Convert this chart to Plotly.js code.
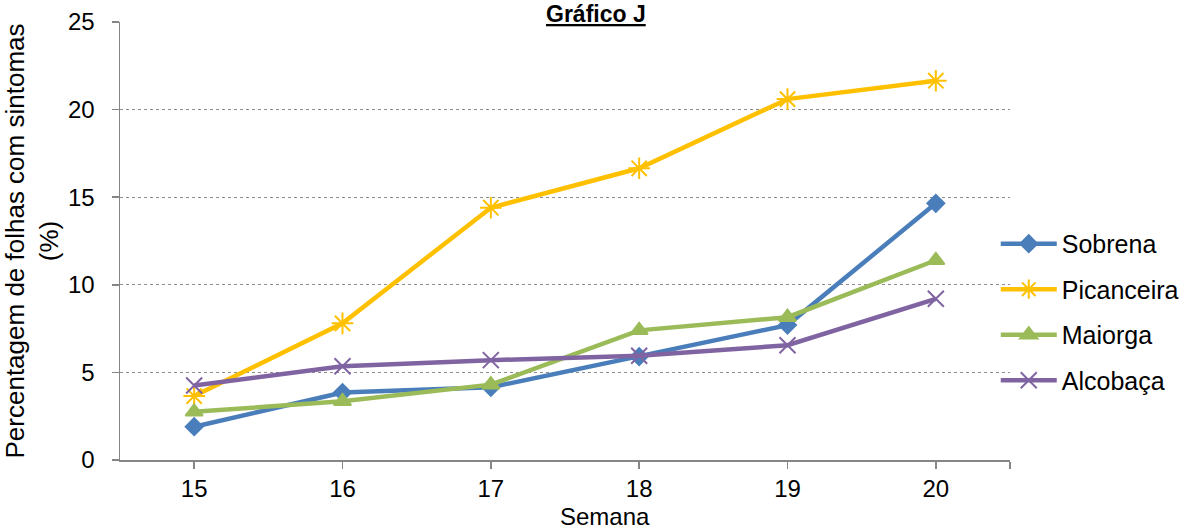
<!DOCTYPE html>
<html><head><meta charset="utf-8">
<script src="https://cdn.plot.ly/plotly-3.0.1.min.js"></script>
<style>body{margin:0;background:#fff}#c{width:1184px;height:531px}</style>
</head><body><div id="c"></div>
<script>
const weeks = [15, 16, 17, 18, 19, 20];
const sobrena = [1.9, 3.85, 4.15, 5.9, 7.7, 14.65];
const picanceira = [3.65, 7.8, 14.4, 16.65, 20.6, 21.65];
const maiorga = [2.75, 3.35, 4.3, 7.4, 8.15, 11.4];
const alcobaca = [4.25, 5.35, 5.7, 5.95, 6.55, 9.2];
const names = ['Sobrena', 'Picanceira', 'Maiorga', 'Alcobaça'];
const colors = ['#4A7EBB', '#FFC000', '#9BBB59', '#8064A2'];
const symbols = ['diamond', 'asterisk-open', 'triangle-up', 'x-thin-open'];
const sizes = [13, 18, 15, 16];
const series = [sobrena, picanceira, maiorga, alcobaca];

const traces = series.map((ys, i) => ({
  x: weeks, y: ys, name: names[i], type: 'scatter', mode: 'lines+markers',
  legendgroup: 'g' + i,
  line: {color: colors[i], width: 4.5},
  marker: {symbol: symbols[i], size: sizes[i], color: colors[i],
           line: {color: colors[i], width: 2}}
}));

const font = 'Liberation Sans, Arial, sans-serif';
const layout = {
  width: 1184, height: 531,
  margin: {l: 120, r: 174, t: 22, b: 71, autoexpand: false},
  paper_bgcolor: '#fff', plot_bgcolor: '#fff',
  font: {family: font, color: '#000', size: 23},
  showlegend: true,
  legend: {x: 0.984, xanchor: 'left', y: 0.338, yanchor: 'middle',
           font: {size: 25, family: font}, tracegroupgap: 10,
           itemwidth: 56, bgcolor: 'rgba(0,0,0,0)'},
  xaxis: {range: [14.5, 20.5], tickvals: [15, 16, 17, 18, 19, 20, 20.5],
          ticktext: ['15', '16', '17', '18', '19', '20', ''],
          ticks: 'outside', ticklen: 7, tickcolor: '#868686', tickwidth: 1.5,
          showline: true, linecolor: '#868686', linewidth: 1.5,
          showgrid: false, zeroline: false, tickfont: {size: 24}},
  yaxis: {range: [0, 25], tickvals: [0, 5, 10, 15, 20, 25],
          ticks: 'outside', ticklen: 7, tickcolor: '#868686', tickwidth: 1.5,
          ticklabelstandoff: 12,
          showline: true, linecolor: '#868686', linewidth: 1.5,
          showgrid: true, gridcolor: '#8c8c8c', griddash: 'dot', gridwidth: 1.3,
          zeroline: false, tickfont: {size: 24},
          title: {text: 'Percentagem de folhas com sintomas<br>(%)', font: {size: 26}, standoff: 8}},
  annotations: [
    {xref: 'paper', yref: 'paper', x: 0.535, y: 1.0502, borderpad: 0,
     xanchor: 'center', yanchor: 'top',
     text: '<b><span style="text-decoration:underline">Gráfico J</span></b>', showarrow: false,
     font: {size: 23, family: font, color: '#000'}},
    {xref: 'paper', yref: 'paper', x: 0.545, y: -0.096, borderpad: 0,
     xanchor: 'center', yanchor: 'top',
     text: 'Semana', showarrow: false,
     font: {size: 24, family: font, color: '#000'}}
  ]
};
Plotly.newPlot('c', traces, layout, {displayModeBar: false, staticPlot: true});
</script></body></html>
